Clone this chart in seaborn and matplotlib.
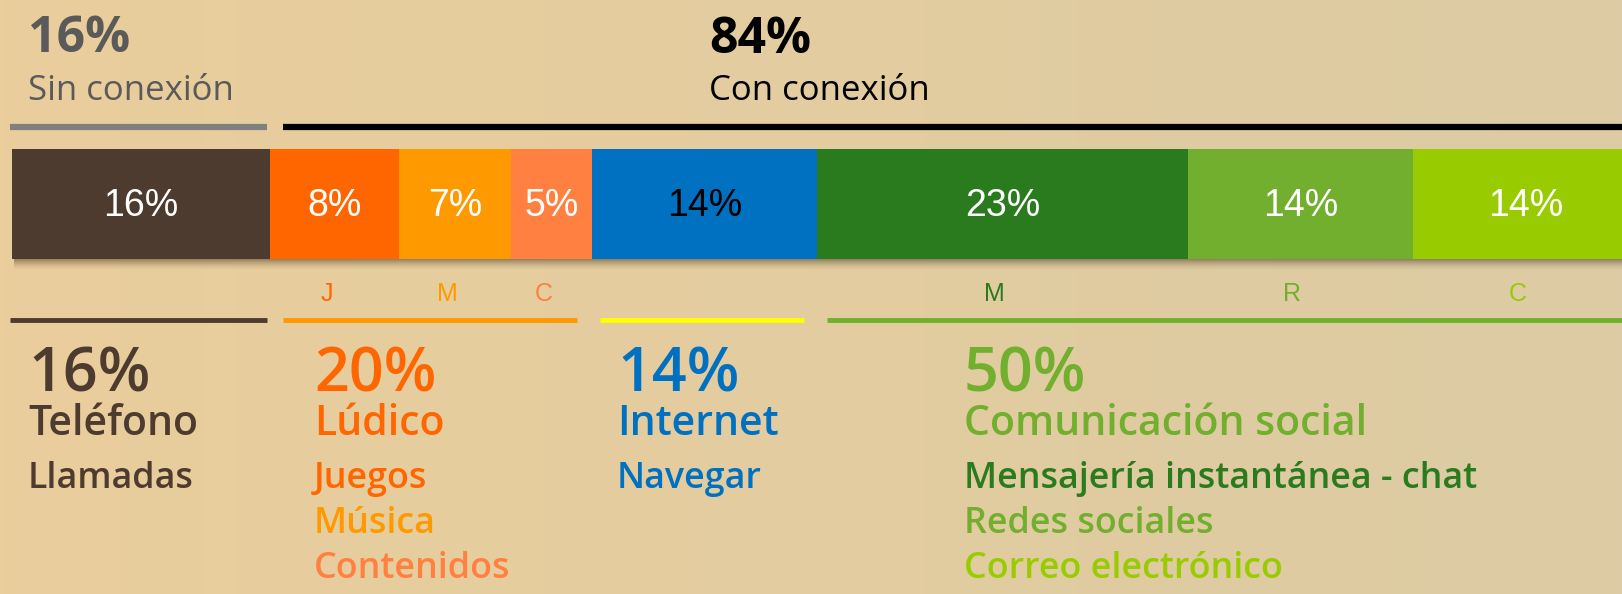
import numpy as np
import pandas as pd
import matplotlib.pyplot as plt
import matplotlib.transforms as mtransforms
import seaborn as sns

# Segments of the stacked bar (share of mobile use, %)
segments = ['Llamadas', 'Juegos', 'Música', 'Contenidos', 'Navegar',
            'Mensajería', 'Redes', 'Correo']
shares = [16, 8, 7, 5, 14, 23, 14, 14]
seg_colors = ['#4d3b30', '#ff6600', '#ff9900', '#ff8040', '#0070c0',
              '#2a7b1e', '#72af2e', '#99cc00']
label_colors = ['white', 'white', 'white', 'white', 'black', 'white', 'white', 'white']
letters = ['', 'J', 'M', 'C', '', 'M', 'R', 'C']

# Header: with / without connection
offline_pct, offline_txt = '16%', 'Sin conexión'
online_pct, online_txt = '84%', 'Con conexión'

# Summary blocks under the bar
group_pcts = ['16%', '20%', '14%', '50%']
group_names = ['Teléfono', 'Lúdico', 'Internet', 'Comunicación social']
group_colors = ['#4d3b30', '#ff6600', '#0070c0', '#72af2e']
group_items = [['Llamadas'],
               ['Juegos', 'Música', 'Contenidos'],
               ['Navegar'],
               ['Mensajería instantánea - chat', 'Redes sociales', 'Correo electrónico']]
item_colors = [['#4d3b30'],
               ['#ff6600', '#ff9900', '#ff8040'],
               ['#0070c0'],
               ['#2a7b1e', '#72af2e', '#99cc00']]

HUM = ['Open Sans', 'DejaVu Sans']
ARL = ['Liberation Sans', 'DejaVu Sans']

sns.set_theme(style='white')
W, H = 1622, 594
fig = plt.figure(figsize=(W / 100, H / 100), dpi=100)

# background: warm paper gradient
bg = fig.add_axes([0, 0, 1, 1])
t = np.linspace(0, 1, 256)
left_c = np.array([234, 206, 156]) / 255
right_c = np.array([220, 203, 164]) / 255
grad = left_c[None, :] * (1 - t[:, None]) + right_c[None, :] * t[:, None]
bg.imshow(grad[None, :, :], aspect='auto', extent=[0, 1, 0, 1])
bg.axis('off')

# overlay axes in pixel units for lines and text
ax = fig.add_axes([0, 0, 1, 1])
ax.set_xlim(0, W)
ax.set_ylim(H, 0)
ax.axis('off')
ax.patch.set_alpha(0)

bar_top, bar_bot = 149, 258.7
# soft shadow under the bar
for i in range(11):
    ax.fill_between([14, W], bar_bot + i, bar_bot + i + 1, color='#3a2a15',
                    alpha=0.45 * (1 - i / 11) ** 1.6, lw=0)

# stacked bar drawn with seaborn (overlapping cumulative bars)
bax = fig.add_axes([0, 1 - bar_bot / H, 1, (bar_bot - bar_top) / H])
cum = np.cumsum(shares)
df = pd.DataFrame({'seg': segments, 'end': cum, 'row': 'uso'})
order = list(df.sort_values('end', ascending=False)['seg'])
sns.barplot(data=df, x='end', y='row', hue='seg', hue_order=order,
            palette=dict(zip(segments, seg_colors)), dodge=False, width=1,
            saturation=1, errorbar=None, legend=False, orient='h',
            linewidth=0, edgecolor='none', ax=bax)
bax.set_xlim(-0.77, 99.98)
bax.set_ylim(0.5, -0.5)
bax.axis('off')
bax.patch.set_alpha(0)

starts = cum - np.array(shares)
for s, v, c in zip(starts, shares, label_colors):
    bax.text(s + v / 2, 0.02, f'{v}%', ha='center', va='center', color=c,
             fontsize=27, family=ARL)

# small letters under the segments
blend = mtransforms.blended_transform_factory(bax.transData, ax.transData)
for s, v, letter, c in zip(starts, shares, letters, seg_colors):
    if letter:
        ax.text(s + v / 2 - 0.5, 301, letter, transform=blend, ha='center',
                va='baseline', color=c, fontsize=18, family=ARL)

# header lines
ax.plot([10, 267], [126.5, 126.5], color='#808080', lw=4.5, solid_capstyle='butt')
ax.plot([283, W], [126.5, 126.5], color='black', lw=4.5, solid_capstyle='butt')
ax.text(28, 52, offline_pct, color='#5a5a5a', fontsize=36, weight='bold',
        family=HUM, va='baseline')
ax.text(28, 100, offline_txt, color='#5a5a5a', fontsize=25, family=HUM, va='baseline')
ax.text(709, 53, online_pct, color='black', fontsize=36, weight='bold',
        family=HUM, va='baseline')
ax.text(709, 100, online_txt, color='black', fontsize=25, family=HUM, va='baseline')

# group underlines
under = [(10, 267, '#4d3b30'), (283, 577, '#ff9900'),
         (600, 804, '#ffff00'), (827, W, '#72af2e')]
for x0, x1, c in under:
    ax.plot([x0, x1], [320, 320], color=c, lw=3.5, solid_capstyle='butt')

# summary text blocks
block_x = [28, 314, 617, 964]
for x, pct, name, gc, items, ics in zip(block_x, group_pcts, group_names,
                                        group_colors, group_items, item_colors):
    ax.text(x, 391, pct, color=gc, fontsize=44, weight='semibold', family=HUM,
            va='baseline')
    ax.text(x, 435, name, color=gc, fontsize=29.5, weight='semibold', family=HUM,
            va='baseline')
    for k, (it, ic) in enumerate(zip(items, ics)):
        ax.text(x, 488 + 45 * k, it, color=ic, fontsize=25.8, weight='semibold',
                family=HUM, va='baseline')

fig.savefig('out.png', dpi=100)
